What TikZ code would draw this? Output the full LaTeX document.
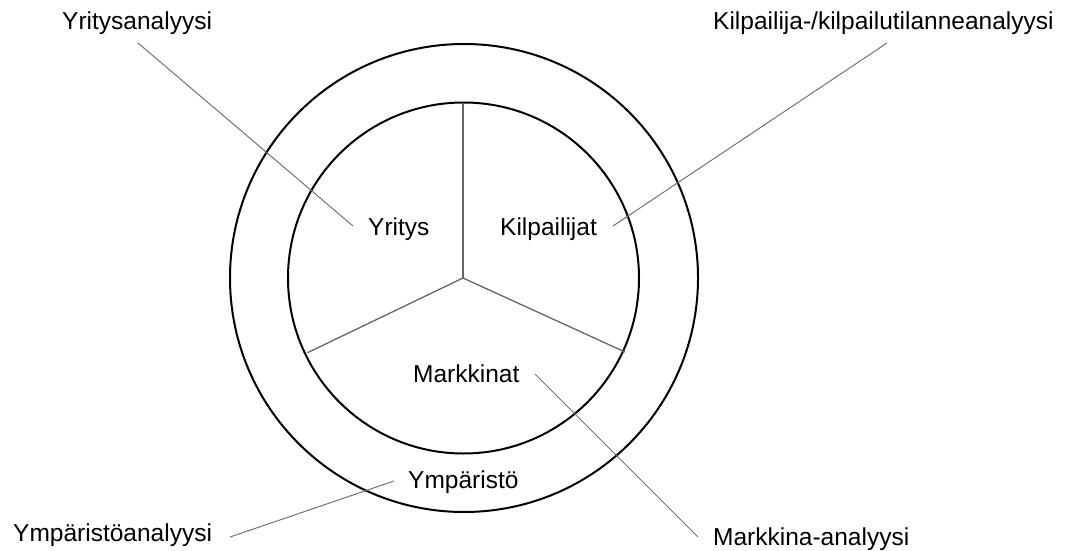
\documentclass[tikz,border=0pt]{standalone}
\usepackage{fontspec}
\setmainfont{Liberation Sans}
\begin{document}
\begin{tikzpicture}[x=1pt,y=-1pt,
  lbl/.style={inner sep=0pt,anchor=base west,font=\fontsize{24.5}{28}\selectfont},
  ring/.style={draw=black,line width=2pt},
  divider/.style={draw=black!60,line width=1.3pt},
  leader/.style={draw=black!55,line width=1pt}]
\useasboundingbox (0,0) rectangle (1065,551);
\coordinate (c) at (463,278);
\draw[ring] (464,278) circle[radius=234pt];
\draw[ring] (463.5,278) circle[radius=175.5pt];
\coordinate (d1) at (463,103);
\coordinate (d2) at (307.5,352.7);
\coordinate (d3) at (625,352);
\draw[divider] (c) -- (d1);
\draw[divider] (c) -- (d2);
\draw[divider] (c) -- (d3);
% labels
\node[lbl] (ya) at (62,30) {Yritysanalyysi};
\node[lbl] (ka) at (713,30) {Kilpailija-/kilpailutilanneanalyysi};
\node[lbl] (ea) at (13,541) {Ympäristöanalyysi};
\node[lbl] (ma) at (713,545) {Markkina-analyysi};
\node[lbl] (y) at (368,235) {Yritys};
\node[lbl] (k) at (500,235) {Kilpailijat};
\node[lbl] (m) at (413,382) {Markkinat};
\node[lbl] (e) at (408,488) {Ympäristö};
% leader ends
\coordinate (ya1) at (138,43);
\coordinate (y1) at (353,226);
\coordinate (ka1) at (887,43);
\coordinate (k1) at (613,226);
\coordinate (e1) at (394,481);
\coordinate (ea1) at (230,537);
\coordinate (m1) at (535,374);
\coordinate (ma1) at (698,537);
\draw[leader] (ya1) -- (y1);
\draw[leader] (ka1) -- (k1);
\draw[leader] (e1) -- (ea1);
\draw[leader] (m1) -- (ma1);
\end{tikzpicture}
\end{document}
